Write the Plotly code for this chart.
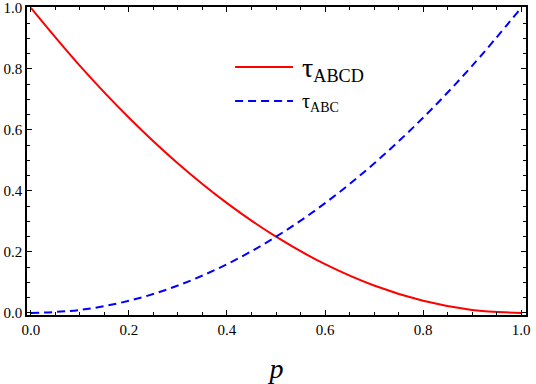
import plotly.graph_objects as go

# values
p_values = [0.0, 0.1, 0.2, 0.3, 0.4, 0.5, 0.6, 0.7, 0.8, 0.9, 1.0]
tau_abcd = [1.0, 0.81, 0.64, 0.49, 0.36, 0.25, 0.16, 0.09, 0.04, 0.01, 0.0]
tau_abc = [0.0, 0.01, 0.04, 0.09, 0.16, 0.25, 0.36, 0.49, 0.64, 0.81, 1.0]
tick_vals = [0.0, 0.2, 0.4, 0.6, 0.8, 1.0]
tick_text = ["0.0", "0.2", "0.4", "0.6", "0.8", "1.0"]

SERIF = "Liberation Serif"
RED = "#ff0000"
BLUE = "#0000ff"

fig = go.Figure()

fig.add_trace(go.Scatter(
    x=p_values, y=tau_abcd, mode="lines", line_shape="spline",
    line=dict(color=RED, width=2), showlegend=False
))
fig.add_trace(go.Scatter(
    x=p_values, y=tau_abc, mode="lines", line_shape="spline",
    line=dict(color=BLUE, width=2, dash="8px,5px"), showlegend=False
))

# hand-made legend, Mathematica style
fig.add_shape(type="line", xref="paper", yref="paper",
              x0=0.417, x1=0.533, y0=0.805, y1=0.805,
              line=dict(color=RED, width=2))
fig.add_shape(type="line", xref="paper", yref="paper",
              x0=0.417, x1=0.533, y0=0.695, y1=0.695,
              line=dict(color=BLUE, width=2, dash="8px,5px"))
fig.add_annotation(xref="paper", yref="paper", x=0.547, y=0.80,
                   xanchor="left", yanchor="middle", showarrow=False,
                   text='<span style="font-size:28px">τ</span><sub>ABCD</sub>',
                   font=dict(family=SERIF, size=26, color="black"))
fig.add_annotation(xref="paper", yref="paper", x=0.547, y=0.69,
                   xanchor="left", yanchor="middle", showarrow=False,
                   text='<span style="font-size:20px">τ</span><sub>ABC</sub>',
                   font=dict(family=SERIF, size=20, color="black"))

axis_common = dict(
    showgrid=False, zeroline=False, automargin=False,
    showline=True, linecolor="black", linewidth=1.5, mirror="allticks",
    ticks="inside", ticklen=5, tickwidth=1, tickcolor="black",
    minor=dict(ticks="inside", ticklen=3, tickwidth=1, tickcolor="black", dtick=0.05),
    tickvals=tick_vals, ticktext=tick_text,
    tickfont=dict(family=SERIF, size=15, color="black"),
)

fig.update_xaxes(range=[-0.008, 1.01], title=dict(
    text="<i>p</i>", font=dict(family=SERIF, size=28, color="black"), standoff=24),
    **axis_common)
fig.update_yaxes(range=[-0.0066, 1.003], **axis_common)

fig.update_layout(
    template="none",
    width=536, height=384,
    margin=dict(l=27, r=10, t=7, b=69),
    paper_bgcolor="white", plot_bgcolor="white",
    font=dict(family=SERIF, color="black"),
)

fig.write_html("out.html", config={"displayModeBar": False},
               post_script="document.body.style.margin='0px';")
